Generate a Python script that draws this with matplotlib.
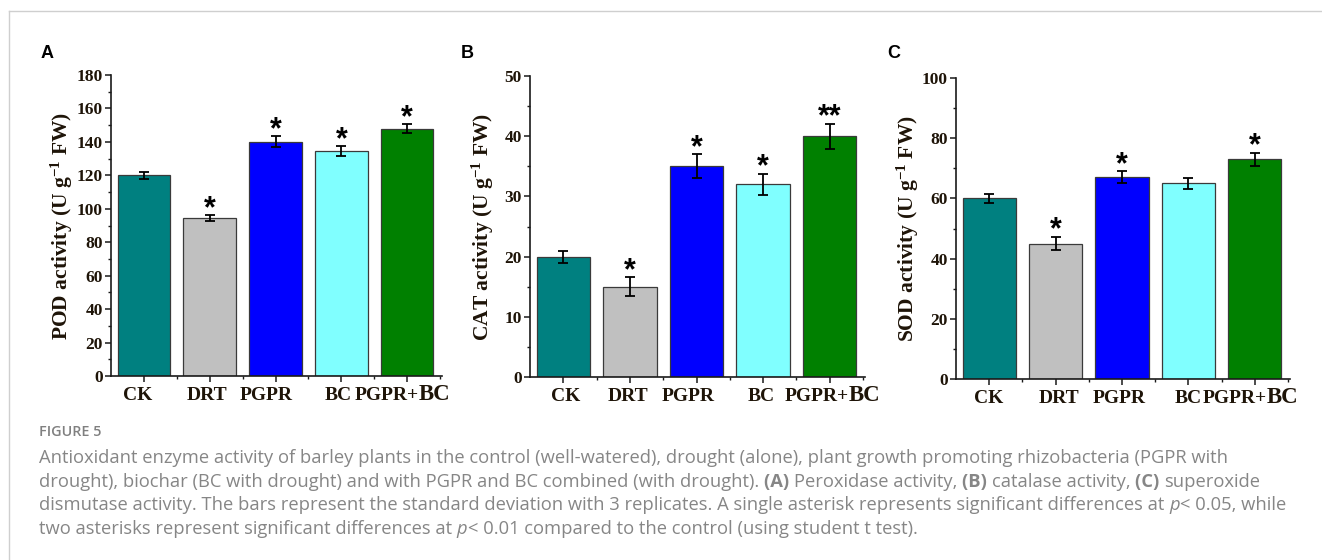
import matplotlib
matplotlib.use("Agg")
import matplotlib.pyplot as plt
from matplotlib.font_manager import FontProperties
from matplotlib.lines import Line2D
from matplotlib.ticker import MultipleLocator
import matplotlib.transforms as mtransforms

# ---------------- data ----------------
categories = ["CK", "DRT", "PGPR", "BC", "PGPR+BC"]
bar_colors = ["#008080", "#C0C0C0", "#0000FF", "#80FFFF", "#008000"]

pod = [120, 94.5, 140, 134.5, 148]
pod_err = [2.0, 1.6, 3.3, 3.0, 2.4]
pod_sig = ["", "*", "*", "*", "*"]

cat = [20, 15, 35, 32, 40]
cat_err = [1.0, 1.6, 2.0, 1.8, 2.1]
cat_sig = ["", "*", "*", "*", "**"]

sod = [60, 45, 67, 65, 73]
sod_err = [1.5, 2.3, 2.0, 1.9, 2.2]
sod_sig = ["", "*", "*", "", "*"]

panel_letters = ["A", "B", "C"]
ylabels = ["POD activity (U g$^{-1}$ FW)",
           "CAT activity (U g$^{-1}$ FW)",
           "SOD activity (U g$^{-1}$ FW)"]
ylims = [180, 50, 100]
major_steps = [20, 10, 20]
minor_steps = [10, 5, 10]

fig_label = "FIGURE 5"
caption_lines = [
    [("Antioxidant enzyme activity of barley plants in the control (well-watered), drought (alone), plant growth promoting rhizobacteria (PGPR with", "n")],
    [("drought), biochar (BC with drought) and with PGPR and BC combined (with drought). ", "n"),
     ("(A) ", "b"), ("Peroxidase activity, ", "n"), ("(B) ", "b"), ("catalase activity, ", "n"),
     ("(C) ", "b"), ("superoxide", "n")],
    [("dismutase activity. The bars represent the standard deviation with 3 replicates. A single asterisk represents significant differences at ", "n"),
     ("p", "i"), ("< 0.05, while", "n")],
    [("two asterisks represent significant differences at ", "n"), ("p", "i"),
     ("< 0.01 compared to the control (using student t test).", "n")],
]

# ---------------- style ----------------
W, H = 1322, 560
plt.rcParams["mathtext.fontset"] = "custom"
plt.rcParams["mathtext.rm"] = "Liberation Serif:bold"
plt.rcParams["mathtext.bf"] = "Liberation Serif:bold"
plt.rcParams["mathtext.it"] = "Liberation Serif:bold"
plt.rcParams["mathtext.default"] = "rm"

TXT = "#1e1408"
SERIF = "Liberation Serif"

fig = plt.figure(figsize=(W / 100, H / 100), dpi=100)
fig.patch.set_facecolor("white")
renderer = fig.canvas.get_renderer()


def text_width(s, fp):
    w1, _, _ = renderer.get_text_width_height_descent("|" + s + "|", fp, ismath=False)
    w0, _, _ = renderer.get_text_width_height_descent("||", fp, ismath=False)
    return w1 - w0


# frame lines
fig.add_artist(Line2D([9 / W, 9 / W], [0, 1 - 11 / H], transform=fig.transFigure,
                      color="#cfcfcf", lw=1.0))
fig.add_artist(Line2D([9 / W, 1], [1 - 11 / H, 1 - 11 / H], transform=fig.transFigure,
                      color="#cfcfcf", lw=1.0))

# layout (pixels): axes left, right, top, bottom
rects = [(111, 442, 75, 376), (530, 865, 76, 377), (956, 1290, 78, 379)]
letter_x = [41, 461, 887]
ylabel_x = [75, 496, 921]
# horizontal nudges of category labels (pixels), per panel
label_nudge = [[-6, -2.5, -9, -3.5, -4.5],
               [2, -1.5, -8, -2, 3],
               [-1, 3, -3, 0, -4]]
values = [pod, cat, sod]
errors = [pod_err, cat_err, sod_err]
sigs = [pod_sig, cat_sig, sod_sig]

xpos = list(range(1, len(categories) + 1))
lab_fp = FontProperties(family=SERIF, weight="bold", size=14)
big_fp = FontProperties(family=SERIF, weight="bold", size=16.5)

for i in range(3):
    l, r, t, b = rects[i]
    ax = fig.add_axes([l / W, 1 - b / H, (r - l) / W, (b - t) / H])
    ax.bar(xpos, values[i], width=0.8, color=bar_colors, edgecolor="#3a3a3a",
           linewidth=0.9, zorder=2)
    ax.errorbar(xpos, values[i], yerr=errors[i], fmt="none", ecolor="black",
                elinewidth=1.3, capsize=3.5, capthick=1.3, zorder=3)
    for x, v, e, s in zip(xpos, values[i], errors[i], sigs[i]):
        if s:
            ax.annotate(s, xy=(x, v + e), xytext=(0, -2), textcoords="offset pixels",
                        ha="center", va="baseline", fontsize=22, fontweight="bold",
                        family="Liberation Sans", color="black", zorder=4)
    ax.set_xlim(0.5, 5.53)
    ax.set_ylim(0, ylims[i])
    ax.yaxis.set_major_locator(MultipleLocator(major_steps[i]))
    ax.yaxis.set_minor_locator(MultipleLocator(minor_steps[i]))
    ax.set_xticks(xpos)
    ax.set_xticks([1.5, 2.5, 3.5, 4.5, 5.5], minor=True)
    ax.set_xticklabels([])
    for sp in ["top", "right"]:
        ax.spines[sp].set_visible(False)
    for sp in ["left", "bottom"]:
        ax.spines[sp].set_linewidth(1.2)
        ax.spines[sp].set_color("#1a1a1a")
    ax.tick_params(axis="both", which="major", direction="out", length=4.5, width=1.1,
                   color="#1a1a1a")
    ax.tick_params(axis="both", which="minor", direction="out", length=2.5, width=1.0,
                   color="#1a1a1a")
    ax.tick_params(axis="y", which="major", pad=1.5, labelsize=12.5, labelcolor=TXT)
    for lab in ax.get_yticklabels():
        lab.set_fontfamily(SERIF)
        lab.set_fontweight("bold")
    ax.set_ylabel(ylabels[i], fontsize=15.5, fontweight="bold", family=SERIF, color=TXT)
    ax.yaxis.set_label_coords((ylabel_x[i] - l) / (r - l), 0.5)

    # category labels (last one has a larger "BC")
    btrans = mtransforms.blended_transform_factory(ax.transData, ax.transAxes)
    for x, name, off in zip(xpos, categories, label_nudge[i]):
        if "+" in name:
            a, bpart = name.split("+")
            a = a + "+"
            wa = text_width(a, lab_fp)
            wb = text_width(bpart, big_fp)
            start = -(wa + wb) / 2 + off
            ax.annotate(a, xy=(x, 0), xycoords=btrans, xytext=(start, -24),
                        textcoords="offset pixels", ha="left", va="baseline",
                        fontproperties=lab_fp, color=TXT, annotation_clip=False)
            ax.annotate(bpart, xy=(x, 0), xycoords=btrans, xytext=(start + wa, -24),
                        textcoords="offset pixels", ha="left", va="baseline",
                        fontproperties=big_fp, color=TXT, annotation_clip=False)
        else:
            ax.annotate(name, xy=(x, 0), xycoords=btrans, xytext=(off, -24),
                        textcoords="offset pixels", ha="center", va="baseline",
                        fontproperties=lab_fp, color=TXT, annotation_clip=False)

    fig.text(letter_x[i] / W, 1 - 54 / H, panel_letters[i], fontsize=13,
             fontweight="bold", family="Liberation Sans", color="black",
             ha="left", va="center")

# ---------------- caption ----------------
CAP_FAM = "Open Sans"
CAP_COL = "#868686"
fp_n10 = FontProperties(family=CAP_FAM, size=10)
w10 = text_width(caption_lines[0][0][0], fp_n10)
cap_fs = 10 * 1190 / w10

fig.text(39 / W, 1 - 432 / H, fig_label, fontsize=cap_fs * 0.78, fontweight="semibold",
         family=CAP_FAM, color="#808080", ha="left", va="center")

line_y = [456, 480, 503, 527]
for runs, yc in zip(caption_lines, line_y):
    x = 39
    for s, st in runs:
        fp = FontProperties(family=CAP_FAM, size=cap_fs,
                            weight="bold" if st == "b" else "normal",
                            style="italic" if st == "i" else "normal")
        fig.text(x / W, 1 - yc / H, s, fontproperties=fp, color=CAP_COL,
                 ha="left", va="center_baseline")
        x += text_width(s, fp)

fig.savefig("out.png", dpi=100, facecolor="white")
